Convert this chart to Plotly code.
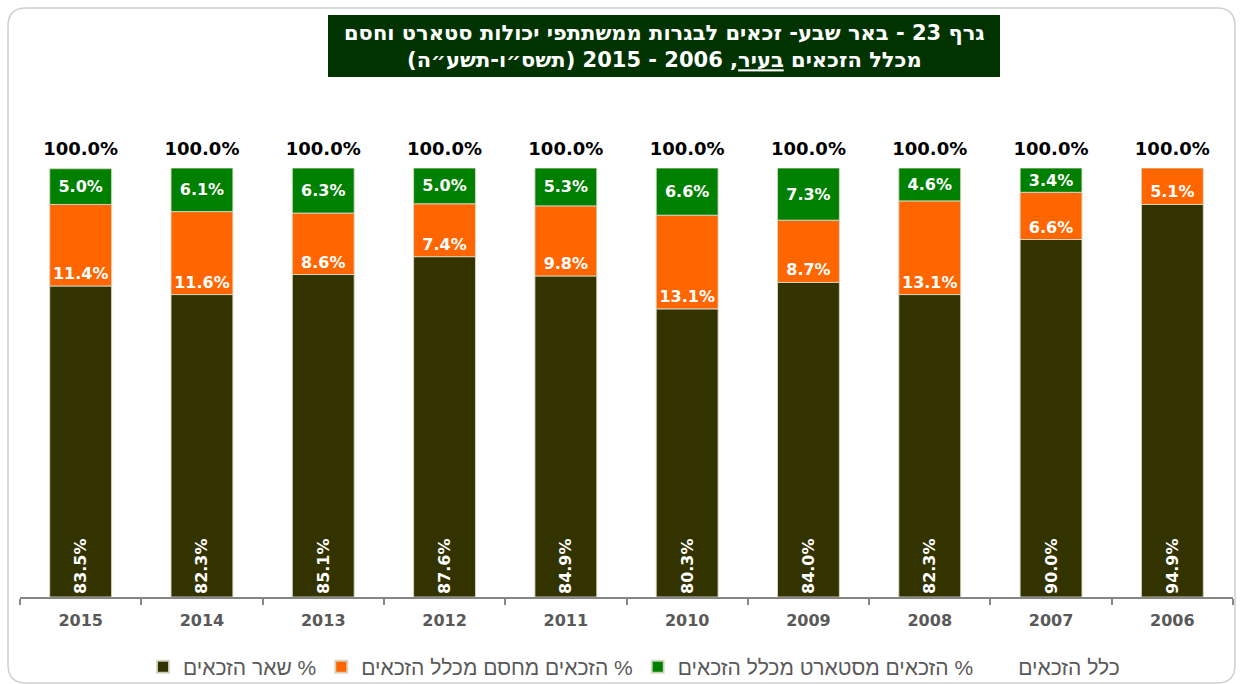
import plotly.graph_objects as go

# ---- data ----
years = ["2015", "2014", "2013", "2012", "2011", "2010", "2009", "2008", "2007", "2006"]
other_pct = [83.5, 82.3, 85.1, 87.6, 84.9, 80.3, 84.0, 82.3, 90.0, 94.9]
hasam_pct = [11.4, 11.6, 8.6, 7.4, 9.8, 13.1, 8.7, 13.1, 6.6, 5.1]
start_pct = [5.0, 6.1, 6.3, 5.0, 5.3, 6.6, 7.3, 4.6, 3.4, None]
total_pct = [100.0] * 10

RLM = "\u200f"
name_other = RLM + "% שאר הזכאים"
name_hasam = RLM + "% הזכאים מחסם מכלל הזכאים"
name_start = RLM + "% הזכאים מסטארט מכלל הזכאים"
name_total = "כלל הזכאים"
title_l1 = "גרף 23 - באר שבע- זכאים לבגרות ממשתתפי יכולות סטארט וחסם" + RLM
title_l2 = "מכלל הזכאים <u>בעיר</u>, 2006 - 2015 (תשס״ו-תשע״ה)" + RLM

Y_MIN, Y_MAX = 40, 100

# ---- geometry helpers ----
W, H = 1242, 684
ML, MR, MT, MB = 20, 9, 168, 87
PW, PH = W - ML - MR, H - MT - MB


def px_x(p):
    return (p - ML) / PW


def px_y(p):
    return (H - MB - p) / PH


FONT = "DejaVu Sans"
C_OTHER, C_HASAM, C_START = "#333300", "#FF6600", "#008000"
BAR_W = 0.51
EDGE = dict(color="rgba(215,215,195,0.9)", width=1)

fmt = lambda v: "" if v is None else f"{v:.1f}%"

base_hasam = [o for o in other_pct]
base_start = [o + h for o, h in zip(other_pct, hasam_pct)]

lab_font = dict(family=FONT, size=16, color="white", weight="bold")

fig = go.Figure()
fig.add_trace(go.Bar(
    x=years, y=[v - Y_MIN for v in other_pct], base=Y_MIN, name=name_other,
    marker=dict(color=C_OTHER, line=EDGE), width=BAR_W,
    text=[fmt(v) for v in other_pct], textposition="inside", textangle=-90,
    insidetextanchor="start", insidetextfont=lab_font, constraintext="none",
    hoverinfo="skip",
))
fig.add_trace(go.Bar(
    x=years, y=hasam_pct, base=base_hasam, name=name_hasam,
    marker=dict(color=C_HASAM, line=EDGE), width=BAR_W,
    text=[fmt(v) for v in hasam_pct], textposition="inside", textangle=0,
    insidetextanchor="start", insidetextfont=lab_font, constraintext="none",
    hoverinfo="skip",
))
fig.add_trace(go.Bar(
    x=years, y=start_pct, base=base_start, name=name_start,
    marker=dict(color=C_START, line=EDGE), width=BAR_W,
    text=[fmt(v) for v in start_pct], textposition="inside", textangle=0,
    insidetextanchor="middle", insidetextfont=lab_font, constraintext="none",
    hoverinfo="skip",
))
# total: invisible bar (legend entry) + text labels above
fig.add_trace(go.Bar(
    x=years, y=[v - Y_MIN for v in total_pct], base=Y_MIN, name=name_total,
    marker=dict(color="rgba(0,0,0,0)", line=dict(width=0, color="rgba(0,0,0,0)")),
    width=BAR_W, hoverinfo="skip",
))
fig.add_trace(go.Scatter(
    x=years, y=total_pct, mode="markers+text", showlegend=False,
    marker=dict(size=12, color="rgba(0,0,0,0)"),
    text=[fmt(v) for v in total_pct], textposition="top center",
    textfont=dict(family=FONT, size=18, color="black", weight="bold"),
    cliponaxis=False, hoverinfo="skip",
))

# frame (rounded rectangle)
x0, y0, x1, y1, r = 8, 8, 1235, 683, 18
pts = lambda x, y: f"{px_x(x)},{px_y(y)}"
path = (f"M {pts(x0 + r, y0)} L {pts(x1 - r, y0)} Q {pts(x1, y0)} {pts(x1, y0 + r)} "
        f"L {pts(x1, y1 - r)} Q {pts(x1, y1)} {pts(x1 - r, y1)} "
        f"L {pts(x0 + r, y1)} Q {pts(x0, y1)} {pts(x0, y1 - r)} "
        f"L {pts(x0, y0 + r)} Q {pts(x0, y0)} {pts(x0 + r, y0)} Z")
fig.add_shape(type="path", xref="paper", yref="paper", path=path,
              line=dict(color="#d0d0d0", width=1.5), layer="below")

# title box
fig.add_shape(type="rect", xref="paper", yref="paper",
              x0=px_x(328), x1=px_x(1000), y0=px_y(77), y1=px_y(15),
              fillcolor="#003300", line=dict(width=0))
fig.add_annotation(xref="paper", yref="paper", x=px_x(664), y=px_y(46),
                   text=title_l1 + "<br>" + title_l2, showarrow=False,
                   font=dict(family=FONT, size=21, color="white", weight="bold"),
                   align="center", xanchor="center", yanchor="middle")

fig.update_layout(
    width=W, height=H,
    margin=dict(l=ML, r=MR, t=MT, b=MB, autoexpand=False),
    barmode="overlay",
    paper_bgcolor="white", plot_bgcolor="white",
    showlegend=True,
    legend=dict(orientation="h", x=px_x(634), xanchor="center", y=px_y(667), yanchor="middle",
                font=dict(family="Liberation Sans", size=21, color="#595959"),
                bgcolor="rgba(0,0,0,0)",
                traceorder="normal", itemsizing="constant"),
    xaxis=dict(type="category", range=[-0.5, len(years) - 0.5],
               showline=True, linecolor="#868686", linewidth=1.5,
               ticks="outside", tickson="boundaries", ticklen=6, tickcolor="#868686",
               tickwidth=1.5, ticklabelstandoff=8,
               tickfont=dict(family=FONT, size=16, color="#595959", weight="bold"),
               showgrid=False),
    yaxis=dict(range=[Y_MIN, Y_MAX], visible=False, showgrid=False),
)

fig.write_html("out.html", config={"displayModeBar": False},
               post_script="document.body.style.margin='0';")
